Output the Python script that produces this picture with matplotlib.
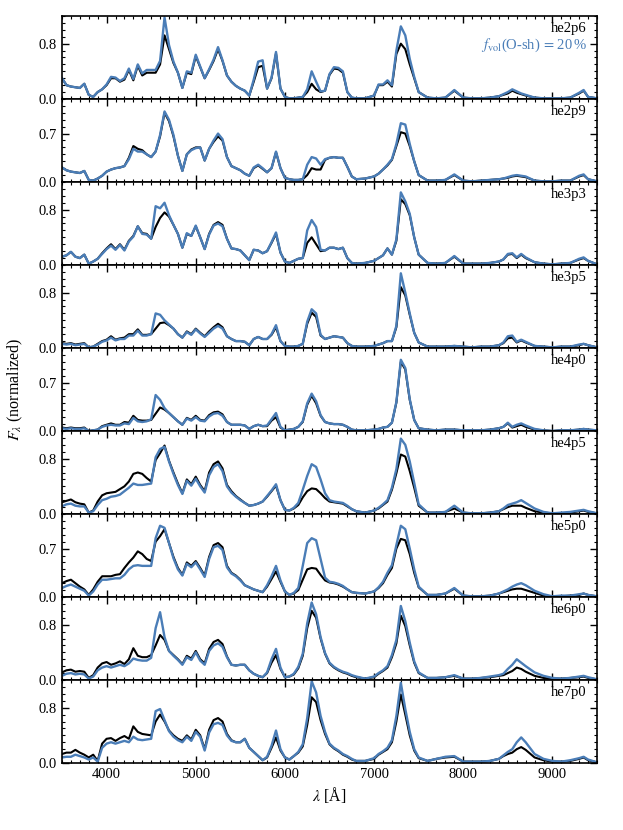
import matplotlib
matplotlib.use('Agg')
import matplotlib.pyplot as plt
from matplotlib.ticker import MultipleLocator

plt.rcParams['font.family'] = ['Liberation Serif', 'DejaVu Serif']
plt.rcParams['mathtext.fontset'] = 'stix'

wave = [3500, 3550, 3600, 3650, 3700, 3750, 3800, 3850, 3900, 3950,
        4000, 4050, 4100, 4150, 4200, 4250, 4300, 4350, 4400, 4450,
        4500, 4550, 4600, 4650, 4700, 4750, 4800, 4850, 4900, 4950,
        5000, 5050, 5100, 5150, 5200, 5250, 5300, 5350, 5400, 5450,
        5500, 5550, 5600, 5650, 5700, 5750, 5800, 5850, 5900, 5950,
        6000, 6050, 6100, 6150, 6200, 6250, 6300, 6350, 6400, 6450,
        6500, 6550, 6600, 6650, 6700, 6750, 6800, 6900, 7000, 7050,
        7100, 7150, 7200, 7250, 7300, 7350, 7400, 7450, 7500, 7600,
        7700, 7800, 7900, 8000, 8100, 8200, 8300, 8400, 8450, 8500,
        8550, 8600, 8650, 8700, 8800, 8900, 9000, 9100, 9200, 9300,
        9350, 9400, 9500]

models = ['he2p6', 'he2p9', 'he3p3', 'he3p5', 'he4p0', 'he4p5', 'he5p0', 'he6p0', 'he7p0']
ytick_top = [0.8, 0.7, 0.8, 0.8, 0.7, 0.8, 0.7, 0.8, 0.8]

he2p6_black = [
0.30,0.20,0.18,0.17,0.16,0.22,0.06,0.03,0.10,0.14,
0.20,0.30,0.30,0.25,0.28,0.42,0.27,0.48,0.34,0.38,
0.38,0.38,0.50,0.92,0.72,0.52,0.38,0.16,0.38,0.36,
0.62,0.46,0.30,0.42,0.55,0.72,0.55,0.34,0.25,0.19,
0.15,0.12,0.05,0.25,0.46,0.48,0.15,0.30,0.66,0.15,
0.03,0.01,0.01,0.02,0.03,0.10,0.22,0.14,0.10,0.12,
0.35,0.44,0.43,0.38,0.10,0.02,0.01,0.01,0.05,0.20,
0.20,0.25,0.18,0.65,0.80,0.72,0.50,0.30,0.10,0.02,
0.01,0.02,0.12,0.02,0.01,0.01,0.02,0.04,0.06,0.08,
0.12,0.09,0.07,0.05,0.02,0.01,0.01,0.01,0.02,0.08,
0.12,0.03,0.01]
he2p6_blue = [
0.30,0.20,0.18,0.17,0.16,0.22,0.06,0.03,0.10,0.14,
0.21,0.32,0.31,0.26,0.30,0.44,0.29,0.50,0.37,0.42,
0.42,0.42,0.55,1.18,0.78,0.54,0.38,0.16,0.40,0.38,
0.64,0.47,0.30,0.43,0.57,0.75,0.56,0.34,0.25,0.19,
0.15,0.12,0.05,0.28,0.54,0.56,0.15,0.31,0.68,0.15,
0.03,0.01,0.01,0.02,0.03,0.14,0.40,0.25,0.11,0.12,
0.36,0.46,0.45,0.40,0.10,0.02,0.01,0.01,0.05,0.21,
0.21,0.27,0.20,0.70,1.05,0.92,0.58,0.32,0.10,0.02,
0.01,0.02,0.13,0.02,0.01,0.01,0.02,0.04,0.07,0.10,
0.14,0.11,0.08,0.06,0.02,0.01,0.01,0.01,0.02,0.09,
0.13,0.03,0.01]

he2p9_black = [
0.21,0.17,0.15,0.14,0.13,0.16,0.03,0.02,0.05,0.09,
0.15,0.18,0.20,0.21,0.23,0.35,0.52,0.48,0.46,0.40,
0.36,0.44,0.66,1.00,0.88,0.66,0.38,0.16,0.40,0.47,
0.50,0.50,0.31,0.48,0.58,0.66,0.60,0.36,0.23,0.20,
0.17,0.12,0.09,0.20,0.24,0.19,0.14,0.20,0.43,0.20,
0.06,0.04,0.03,0.03,0.04,0.10,0.20,0.18,0.18,0.32,
0.35,0.36,0.35,0.35,0.22,0.08,0.04,0.05,0.08,0.12,
0.18,0.24,0.32,0.52,0.72,0.70,0.52,0.30,0.10,0.02,
0.02,0.03,0.10,0.02,0.01,0.02,0.03,0.04,0.05,0.06,
0.08,0.09,0.08,0.07,0.02,0.01,0.01,0.02,0.02,0.08,
0.10,0.04,0.01]
he2p9_blue = [
0.21,0.17,0.15,0.14,0.13,0.16,0.03,0.02,0.05,0.09,
0.15,0.18,0.20,0.21,0.23,0.33,0.48,0.44,0.44,0.40,
0.36,0.44,0.68,1.02,0.90,0.68,0.38,0.16,0.40,0.46,
0.49,0.50,0.31,0.48,0.60,0.70,0.62,0.36,0.23,0.20,
0.17,0.12,0.09,0.21,0.25,0.20,0.14,0.20,0.44,0.20,
0.06,0.04,0.03,0.03,0.04,0.25,0.36,0.34,0.25,0.33,
0.35,0.36,0.35,0.35,0.22,0.08,0.04,0.05,0.08,0.12,
0.18,0.25,0.33,0.55,0.85,0.83,0.55,0.30,0.10,0.02,
0.02,0.03,0.11,0.02,0.01,0.02,0.03,0.04,0.05,0.07,
0.09,0.10,0.09,0.08,0.02,0.01,0.01,0.02,0.02,0.09,
0.11,0.04,0.01]

he3p3_black = [
0.12,0.14,0.19,0.12,0.10,0.15,0.02,0.05,0.09,0.17,
0.24,0.30,0.23,0.30,0.22,0.35,0.42,0.56,0.46,0.45,
0.38,0.55,0.68,0.76,0.70,0.58,0.45,0.25,0.45,0.42,
0.56,0.40,0.23,0.45,0.58,0.62,0.58,0.38,0.24,0.23,
0.21,0.14,0.07,0.22,0.21,0.17,0.20,0.32,0.45,0.18,
0.05,0.03,0.06,0.09,0.10,0.32,0.40,0.30,0.20,0.21,
0.25,0.25,0.23,0.25,0.10,0.03,0.02,0.03,0.06,0.10,
0.14,0.24,0.15,0.35,0.95,0.88,0.72,0.40,0.15,0.03,
0.02,0.03,0.12,0.02,0.02,0.02,0.03,0.05,0.08,0.15,
0.16,0.10,0.15,0.10,0.04,0.02,0.01,0.02,0.03,0.08,
0.10,0.06,0.01]
he3p3_blue = [
0.12,0.14,0.19,0.12,0.10,0.15,0.02,0.05,0.09,0.16,
0.23,0.28,0.22,0.29,0.21,0.34,0.41,0.56,0.45,0.44,
0.38,0.85,0.82,0.90,0.72,0.58,0.45,0.25,0.46,0.42,
0.57,0.40,0.23,0.44,0.57,0.60,0.56,0.38,0.24,0.23,
0.21,0.14,0.07,0.22,0.21,0.17,0.20,0.33,0.47,0.18,
0.05,0.03,0.06,0.09,0.10,0.50,0.65,0.55,0.22,0.21,
0.25,0.25,0.23,0.25,0.10,0.03,0.02,0.03,0.06,0.10,
0.14,0.24,0.15,0.37,1.05,0.92,0.74,0.40,0.15,0.03,
0.02,0.03,0.13,0.02,0.02,0.02,0.03,0.05,0.08,0.16,
0.17,0.11,0.16,0.11,0.04,0.02,0.01,0.02,0.03,0.09,
0.11,0.06,0.01]

he3p5_black = [
0.07,0.06,0.07,0.05,0.06,0.07,0.01,0.02,0.06,0.10,
0.12,0.17,0.12,0.14,0.15,0.20,0.20,0.27,0.19,0.19,
0.20,0.28,0.36,0.37,0.33,0.28,0.20,0.15,0.24,0.20,
0.28,0.22,0.17,0.24,0.30,0.35,0.30,0.17,0.13,0.10,
0.10,0.09,0.04,0.13,0.16,0.13,0.13,0.19,0.30,0.10,
0.03,0.02,0.02,0.03,0.06,0.35,0.51,0.45,0.18,0.13,
0.15,0.17,0.16,0.15,0.07,0.03,0.02,0.02,0.03,0.05,
0.07,0.10,0.10,0.30,0.88,0.76,0.48,0.22,0.08,0.02,
0.02,0.02,0.03,0.02,0.01,0.02,0.02,0.04,0.07,0.14,
0.15,0.08,0.11,0.08,0.03,0.02,0.01,0.02,0.02,0.04,
0.06,0.04,0.01]
he3p5_blue = [
0.06,0.05,0.06,0.04,0.05,0.06,0.01,0.02,0.05,0.09,
0.11,0.15,0.11,0.13,0.13,0.18,0.18,0.25,0.18,0.18,
0.20,0.50,0.48,0.40,0.34,0.28,0.20,0.15,0.23,0.19,
0.27,0.21,0.16,0.22,0.28,0.32,0.28,0.17,0.13,0.10,
0.10,0.09,0.04,0.13,0.16,0.13,0.13,0.20,0.33,0.10,
0.03,0.02,0.02,0.03,0.06,0.38,0.56,0.50,0.19,0.13,
0.15,0.17,0.16,0.15,0.07,0.03,0.02,0.02,0.03,0.05,
0.07,0.10,0.10,0.32,1.08,0.80,0.50,0.22,0.08,0.02,
0.02,0.02,0.03,0.02,0.01,0.02,0.02,0.04,0.08,0.17,
0.18,0.09,0.12,0.09,0.03,0.02,0.01,0.02,0.02,0.05,
0.06,0.04,0.01]

he4p0_black = [
0.05,0.04,0.05,0.04,0.04,0.05,0.00,0.01,0.02,0.07,
0.09,0.11,0.09,0.09,0.13,0.12,0.22,0.16,0.15,0.15,
0.16,0.25,0.34,0.31,0.26,0.20,0.14,0.09,0.19,0.16,
0.22,0.16,0.15,0.23,0.27,0.28,0.24,0.13,0.09,0.09,
0.09,0.08,0.03,0.07,0.09,0.07,0.07,0.15,0.20,0.05,
0.01,0.02,0.03,0.06,0.13,0.38,0.51,0.40,0.22,0.13,
0.11,0.10,0.10,0.09,0.06,0.02,0.01,0.01,0.02,0.03,
0.05,0.06,0.12,0.41,1.00,0.89,0.45,0.16,0.04,0.02,
0.01,0.02,0.02,0.01,0.01,0.01,0.02,0.04,0.06,0.11,
0.05,0.07,0.09,0.06,0.02,0.01,0.00,0.01,0.01,0.02,
0.03,0.02,0.01]
he4p0_blue = [
0.04,0.03,0.04,0.03,0.03,0.04,0.00,0.01,0.02,0.06,
0.08,0.09,0.08,0.08,0.11,0.10,0.19,0.14,0.13,0.14,
0.17,0.52,0.45,0.33,0.26,0.20,0.14,0.09,0.18,0.15,
0.20,0.15,0.14,0.21,0.25,0.26,0.22,0.13,0.09,0.09,
0.09,0.08,0.03,0.07,0.09,0.07,0.08,0.17,0.26,0.06,
0.01,0.02,0.03,0.06,0.14,0.40,0.54,0.43,0.23,0.13,
0.11,0.10,0.10,0.09,0.06,0.02,0.01,0.01,0.02,0.03,
0.05,0.06,0.12,0.42,1.03,0.91,0.46,0.16,0.04,0.02,
0.01,0.02,0.02,0.01,0.01,0.01,0.02,0.04,0.06,0.12,
0.06,0.09,0.11,0.08,0.03,0.01,0.00,0.01,0.01,0.02,
0.03,0.02,0.01]

he4p5_black = [
0.17,0.19,0.21,0.17,0.15,0.14,0.02,0.05,0.18,0.27,
0.30,0.31,0.32,0.36,0.40,0.47,0.58,0.60,0.58,0.52,
0.47,0.78,0.88,0.99,0.77,0.60,0.44,0.30,0.50,0.43,
0.54,0.42,0.33,0.60,0.72,0.76,0.66,0.42,0.33,0.26,
0.21,0.16,0.12,0.13,0.15,0.18,0.25,0.33,0.41,0.20,
0.06,0.05,0.08,0.13,0.24,0.33,0.37,0.36,0.30,0.23,
0.18,0.17,0.16,0.15,0.11,0.07,0.04,0.02,0.05,0.08,
0.13,0.18,0.35,0.59,0.86,0.83,0.62,0.38,0.12,0.02,
0.02,0.03,0.08,0.02,0.01,0.01,0.02,0.04,0.07,0.10,
0.12,0.12,0.12,0.09,0.04,0.02,0.01,0.01,0.02,0.04,
0.05,0.03,0.01]
he4p5_blue = [
0.11,0.14,0.15,0.12,0.11,0.11,0.02,0.04,0.13,0.20,
0.22,0.25,0.26,0.28,0.33,0.38,0.44,0.42,0.42,0.43,
0.44,0.82,0.94,0.97,0.76,0.58,0.42,0.29,0.48,0.41,
0.51,0.40,0.31,0.56,0.68,0.72,0.62,0.40,0.31,0.25,
0.20,0.16,0.12,0.13,0.15,0.18,0.26,0.34,0.43,0.20,
0.06,0.05,0.09,0.16,0.35,0.55,0.72,0.68,0.50,0.30,
0.20,0.18,0.17,0.16,0.12,0.07,0.04,0.02,0.05,0.09,
0.14,0.20,0.38,0.65,1.09,1.00,0.76,0.45,0.14,0.02,
0.02,0.03,0.12,0.02,0.01,0.01,0.02,0.04,0.08,0.13,
0.15,0.17,0.20,0.16,0.08,0.03,0.01,0.02,0.03,0.05,
0.06,0.04,0.01]

he5p0_black = [
0.20,0.23,0.25,0.20,0.15,0.11,0.03,0.11,0.22,0.30,
0.30,0.30,0.32,0.33,0.42,0.50,0.57,0.66,0.62,0.55,
0.52,0.80,0.88,0.98,0.78,0.58,0.42,0.32,0.50,0.45,
0.52,0.42,0.31,0.58,0.75,0.78,0.72,0.45,0.35,0.31,
0.25,0.17,0.14,0.11,0.09,0.07,0.15,0.26,0.37,0.22,
0.08,0.03,0.05,0.10,0.25,0.40,0.42,0.41,0.32,0.24,
0.21,0.20,0.18,0.15,0.11,0.07,0.06,0.05,0.08,0.13,
0.20,0.32,0.42,0.70,0.84,0.82,0.62,0.35,0.14,0.03,
0.03,0.05,0.12,0.02,0.01,0.01,0.02,0.05,0.07,0.09,
0.11,0.12,0.12,0.10,0.06,0.02,0.01,0.01,0.02,0.03,
0.05,0.03,0.01]
he5p0_blue = [
0.13,0.16,0.18,0.15,0.12,0.09,0.02,0.08,0.18,0.25,
0.25,0.26,0.27,0.27,0.32,0.40,0.45,0.46,0.45,0.45,
0.45,0.85,1.03,1.00,0.78,0.56,0.40,0.31,0.48,0.43,
0.50,0.40,0.29,0.55,0.72,0.74,0.68,0.43,0.34,0.30,
0.24,0.17,0.14,0.11,0.09,0.07,0.17,0.30,0.45,0.24,
0.08,0.03,0.06,0.13,0.45,0.78,0.85,0.82,0.55,0.28,
0.22,0.21,0.19,0.16,0.11,0.07,0.06,0.05,0.08,0.14,
0.22,0.35,0.46,0.75,1.03,0.98,0.70,0.40,0.15,0.03,
0.03,0.05,0.13,0.02,0.01,0.01,0.02,0.05,0.08,0.11,
0.15,0.18,0.20,0.17,0.09,0.04,0.01,0.02,0.02,0.04,
0.05,0.03,0.01]

he6p0_black = [
0.11,0.14,0.15,0.12,0.13,0.12,0.03,0.07,0.18,0.24,
0.26,0.22,0.24,0.27,0.23,0.30,0.46,0.35,0.33,0.33,
0.36,0.50,0.65,0.58,0.42,0.36,0.30,0.23,0.35,0.31,
0.42,0.30,0.24,0.45,0.55,0.58,0.52,0.34,0.22,0.21,
0.22,0.22,0.14,0.09,0.06,0.04,0.10,0.25,0.36,0.16,
0.04,0.05,0.08,0.17,0.35,0.75,1.00,0.90,0.60,0.38,
0.24,0.18,0.14,0.11,0.09,0.06,0.04,0.02,0.04,0.09,
0.13,0.18,0.33,0.53,0.93,0.78,0.50,0.25,0.10,0.03,
0.03,0.04,0.06,0.02,0.02,0.03,0.04,0.06,0.07,0.10,
0.13,0.18,0.16,0.12,0.06,0.03,0.02,0.02,0.03,0.04,
0.05,0.03,0.01]
he6p0_blue = [
0.06,0.09,0.10,0.08,0.09,0.08,0.02,0.05,0.14,0.18,
0.20,0.18,0.20,0.22,0.20,0.24,0.31,0.29,0.28,0.28,
0.32,0.75,0.98,0.62,0.42,0.35,0.29,0.22,0.33,0.29,
0.40,0.28,0.22,0.42,0.50,0.53,0.48,0.33,0.22,0.21,
0.22,0.22,0.14,0.09,0.06,0.04,0.11,0.30,0.45,0.18,
0.04,0.05,0.09,0.19,0.38,0.82,1.12,0.95,0.62,0.39,
0.25,0.19,0.15,0.12,0.10,0.07,0.05,0.02,0.05,0.10,
0.14,0.20,0.36,0.58,1.07,0.85,0.54,0.27,0.11,0.03,
0.03,0.04,0.07,0.02,0.02,0.03,0.05,0.07,0.09,0.16,
0.22,0.30,0.25,0.20,0.11,0.06,0.03,0.02,0.03,0.05,
0.06,0.04,0.01]

he7p0_black = [
0.13,0.15,0.15,0.19,0.15,0.12,0.08,0.12,0.03,0.28,
0.35,0.36,0.32,0.36,0.39,0.35,0.53,0.45,0.42,0.41,
0.40,0.60,0.70,0.60,0.47,0.40,0.35,0.32,0.40,0.34,
0.48,0.40,0.20,0.48,0.62,0.65,0.60,0.42,0.33,0.30,
0.30,0.35,0.22,0.16,0.10,0.04,0.08,0.22,0.37,0.18,
0.08,0.05,0.10,0.15,0.24,0.55,0.95,0.88,0.62,0.42,
0.27,0.21,0.17,0.12,0.09,0.05,0.03,0.03,0.06,0.12,
0.16,0.20,0.30,0.60,0.99,0.70,0.40,0.18,0.07,0.03,
0.06,0.08,0.09,0.02,0.02,0.02,0.03,0.06,0.10,0.13,
0.15,0.20,0.23,0.19,0.08,0.04,0.02,0.02,0.03,0.06,
0.08,0.04,0.01]
he7p0_blue = [
0.08,0.09,0.09,0.12,0.10,0.08,0.05,0.08,0.02,0.22,
0.28,0.30,0.28,0.30,0.32,0.30,0.38,0.34,0.33,0.34,
0.35,0.75,0.78,0.62,0.46,0.38,0.33,0.30,0.38,0.32,
0.45,0.38,0.18,0.44,0.56,0.58,0.55,0.40,0.32,0.30,
0.30,0.35,0.22,0.16,0.10,0.04,0.09,0.25,0.47,0.20,
0.08,0.05,0.10,0.16,0.27,0.65,1.18,1.02,0.68,0.45,
0.28,0.22,0.18,0.13,0.10,0.06,0.03,0.03,0.07,0.13,
0.17,0.22,0.33,0.68,1.16,0.78,0.45,0.20,0.08,0.03,
0.06,0.09,0.10,0.02,0.02,0.02,0.03,0.06,0.11,0.16,
0.20,0.30,0.37,0.30,0.13,0.06,0.03,0.02,0.04,0.07,
0.09,0.05,0.01]

black_series = [he2p6_black, he2p9_black, he3p3_black, he3p5_black, he4p0_black,
                he4p5_black, he5p0_black, he6p0_black, he7p0_black]
blue_series = [he2p6_blue, he2p9_blue, he3p3_blue, he3p5_blue, he4p0_blue,
               he4p5_blue, he5p0_blue, he6p0_blue, he7p0_blue]

BLUE = '#4a7db7'

fig, axes = plt.subplots(9, 1, figsize=(6.23, 8.30), dpi=100, sharex=True)
fig.subplots_adjust(left=62/623, right=597/623, top=1-16/830, bottom=1-763/830, hspace=0)

for i, ax in enumerate(axes):
    ax.plot(wave, black_series[i], color='black', lw=1.5)
    ax.plot(wave, blue_series[i], color=BLUE, lw=1.7)
    ax.set_xlim(3500, 9500)
    ax.set_ylim(0, 1.2)
    ax.set_yticks([0.0, ytick_top[i]])
    ax.set_yticklabels(['0.0', f'{ytick_top[i]:.1f}'])
    ax.yaxis.set_minor_locator(MultipleLocator(0.1))
    ax.xaxis.set_major_locator(MultipleLocator(1000))
    ax.xaxis.set_minor_locator(MultipleLocator(100))
    ax.tick_params(which='both', direction='in', top=True, right=True, labelsize=10.5)
    ax.tick_params(which='major', length=5, width=1.0)
    ax.tick_params(which='minor', length=2.5, width=0.8)
    for s in ax.spines.values():
        s.set_linewidth(1.2)
    ax.text(0.981, 0.807, models[i], transform=ax.transAxes, ha='right', va='baseline',
            fontsize=10.5)

axes[0].text(0.981, 0.60, r'$f_{\rm vol}$(O-sh)$\,=\,$20$\,$%', transform=axes[0].transAxes,
             ha='right', va='baseline', fontsize=10.5, color=BLUE)

axes[-1].set_xlabel(r'$\lambda$ [Å]', fontsize=11.5, labelpad=3)
fig.text(0.024, (1 - 16/830 + 1 - 763/830) / 2, r'$F_\lambda$ (normalized)', rotation=90,
         ha='center', va='center', fontsize=11.5)

fig.savefig('out.png', dpi=100)
